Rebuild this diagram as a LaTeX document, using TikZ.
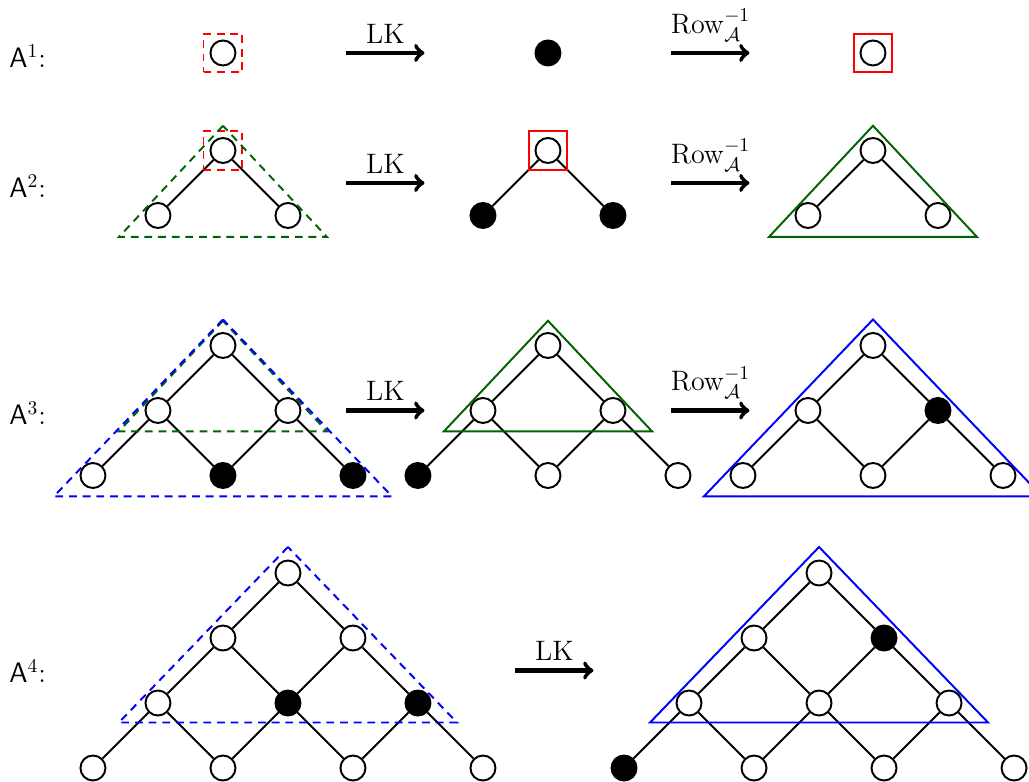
\documentclass[tikz,border=0pt]{standalone}
\usepackage{amssymb}
\definecolor{dgreen}{RGB}{0,100,0}
\begin{document}
\begin{tikzpicture}[x=1.17cm, y=1.17cm, line width=1pt, font=\Large,
		wn/.style={circle, draw, fill=white, minimum size=0.45cm, inner sep=0pt},
		bn/.style={wn, fill=black},
		sqr/.style={draw=red, minimum size=0.7cm, inner sep=0pt},
		dsh/.style={dash pattern=on 4pt off 3pt},
		arr/.style={->, line width=2.2pt},
		lbl/.style={anchor=base west, inner sep=0pt}]
			\useasboundingbox (-1.43,-0.215) rectangle (14.4,11.815);
			% A^1
			\node [lbl] (t1) at (-1.3,10.78) {$\mathsf{A}^1$:};
			\node [wn] (l1a) at (2,11) {};
			\node [bn] (m1a) at (7,11) {};
			\node [wn] (r1a) at (12,11) {};
			\node [sqr, dsh] (l1s) at (l1a) {};
			\node [sqr] (r1s) at (r1a) {};
			\coordinate (k1s) at (3.9,11); \coordinate (k1e) at (5.1,11);
			\coordinate (w1s) at (8.9,11); \coordinate (w1e) at (10.1,11);
			\draw [arr] (k1s) -- (k1e) node [midway, anchor=base, yshift=5pt] (lk1) {LK};
			\draw [arr] (w1s) -- (w1e) node [midway, anchor=base, yshift=10pt] (rw1) {$\mathrm{Row}_{\mathcal{A}}^{-1}$};
			% A^2
			\node [lbl] (t2) at (-1.3,8.78) {$\mathsf{A}^2$:};
			\node [wn] (l2a) at (2,9.5) {};
			\node [wn] (l2b) at (1,8.5) {};
			\node [wn] (l2c) at (3,8.5) {};
			\node [wn] (m2a) at (7,9.5) {};
			\node [bn] (m2b) at (6,8.5) {};
			\node [bn] (m2c) at (8,8.5) {};
			\node [wn] (r2a) at (12,9.5) {};
			\node [wn] (r2b) at (11,8.5) {};
			\node [wn] (r2c) at (13,8.5) {};
			\draw (l2b) -- (l2a) -- (l2c) (m2b) -- (m2a) -- (m2c) (r2b) -- (r2a) -- (r2c);
			\node [sqr, dsh] (l2s) at (l2a) {};
			\node [sqr] (m2s) at (m2a) {};
			\draw [dgreen, dsh] (2,9.88) -- (0.4,8.17) -- (3.6,8.17) -- cycle;
			\draw [dgreen] (12,9.88) -- (10.4,8.17) -- (13.6,8.17) -- cycle;
			\coordinate (k2s) at (3.9,9); \coordinate (k2e) at (5.1,9);
			\coordinate (w2s) at (8.9,9); \coordinate (w2e) at (10.1,9);
			\draw [arr] (k2s) -- (k2e) node [midway, anchor=base, yshift=5pt] (lk2) {LK};
			\draw [arr] (w2s) -- (w2e) node [midway, anchor=base, yshift=10pt] (rw2) {$\mathrm{Row}_{\mathcal{A}}^{-1}$};
			% A^3
			\node [lbl] (t3) at (-1.3,5.28) {$\mathsf{A}^3$:};
			\node [wn] (l3a) at (2,6.5) {};
			\node [wn] (l3b) at (1,5.5) {};
			\node [wn] (l3c) at (3,5.5) {};
			\node [wn] (l3d) at (0,4.5) {};
			\node [bn] (l3e) at (2,4.5) {};
			\node [bn] (l3f) at (4,4.5) {};
			\node [wn] (m3a) at (7,6.5) {};
			\node [wn] (m3b) at (6,5.5) {};
			\node [wn] (m3c) at (8,5.5) {};
			\node [bn] (m3d) at (5,4.5) {};
			\node [wn] (m3e) at (7,4.5) {};
			\node [wn] (m3f) at (9,4.5) {};
			\node [wn] (r3a) at (12,6.5) {};
			\node [wn] (r3b) at (11,5.5) {};
			\node [bn] (r3c) at (13,5.5) {};
			\node [wn] (r3d) at (10,4.5) {};
			\node [wn] (r3e) at (12,4.5) {};
			\node [wn] (r3f) at (14,4.5) {};
			\draw (l3d) -- (l3b) -- (l3a) -- (l3c) -- (l3f) (l3b) -- (l3e) -- (l3c);
			\draw (m3d) -- (m3b) -- (m3a) -- (m3c) -- (m3f) (m3b) -- (m3e) -- (m3c);
			\draw (r3d) -- (r3b) -- (r3a) -- (r3c) -- (r3f) (r3b) -- (r3e) -- (r3c);
			\draw [dgreen, dsh] (2,6.88) -- (0.4,5.18) -- (3.6,5.18) -- cycle;
			\draw [blue, dsh] (2,6.9) -- (-0.6,4.18) -- (4.6,4.18) -- cycle;
			\draw [dgreen] (7,6.88) -- (5.4,5.18) -- (8.6,5.18) -- cycle;
			\draw [blue] (12,6.9) -- (9.4,4.18) -- (14.6,4.18) -- cycle;
			\coordinate (k3s) at (3.9,5.5); \coordinate (k3e) at (5.1,5.5);
			\coordinate (w3s) at (8.9,5.5); \coordinate (w3e) at (10.1,5.5);
			\draw [arr] (k3s) -- (k3e) node [midway, anchor=base, yshift=5pt] (lk3) {LK};
			\draw [arr] (w3s) -- (w3e) node [midway, anchor=base, yshift=10pt] (rw3) {$\mathrm{Row}_{\mathcal{A}}^{-1}$};
			% A^4
			\node [lbl] (t4) at (-1.3,1.31) {$\mathsf{A}^4$:};
			\node [wn] (l4a) at (3,3) {};
			\node [wn] (l4b) at (2,2) {};
			\node [wn] (l4c) at (4,2) {};
			\node [wn] (l4d) at (1,1) {};
			\node [bn] (l4e) at (3,1) {};
			\node [bn] (l4f) at (5,1) {};
			\node [wn] (l4g) at (0,0) {};
			\node [wn] (l4h) at (2,0) {};
			\node [wn] (l4i) at (4,0) {};
			\node [wn] (l4j) at (6,0) {};
			\node [wn] (r4a) at (11.17,3) {};
			\node [wn] (r4b) at (10.17,2) {};
			\node [bn] (r4c) at (12.17,2) {};
			\node [wn] (r4d) at (9.17,1) {};
			\node [wn] (r4e) at (11.17,1) {};
			\node [wn] (r4f) at (13.17,1) {};
			\node [bn] (r4g) at (8.17,0) {};
			\node [wn] (r4h) at (10.17,0) {};
			\node [wn] (r4i) at (12.17,0) {};
			\node [wn] (r4j) at (14.17,0) {};
			\draw (l4g) -- (l4d) -- (l4b) -- (l4a) -- (l4c) -- (l4f) -- (l4j) (l4d) -- (l4h) (l4b) -- (l4e) -- (l4c) (l4h) -- (l4e) -- (l4i) -- (l4f);
			\draw (r4g) -- (r4d) -- (r4b) -- (r4a) -- (r4c) -- (r4f) -- (r4j) (r4d) -- (r4h) (r4b) -- (r4e) -- (r4c) (r4h) -- (r4e) -- (r4i) -- (r4f);
			\draw [blue, dsh] (3,3.4) -- (0.4,0.7) -- (5.6,0.7) -- cycle;
			\draw [blue] (11.17,3.4) -- (8.57,0.7) -- (13.77,0.7) -- cycle;
			\coordinate (k4s) at (6.5,1.5); \coordinate (k4e) at (7.7,1.5);
			\draw [arr] (k4s) -- (k4e) node [midway, anchor=base, yshift=5pt] (lk4) {LK};
		\end{tikzpicture}
\end{document}
